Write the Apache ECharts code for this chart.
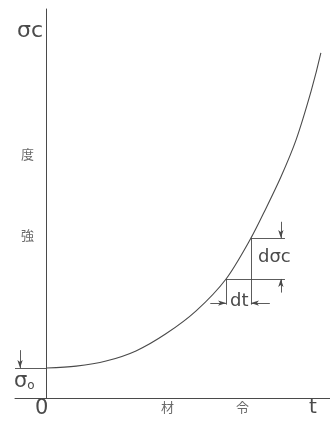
<!DOCTYPE html>
<html><head><meta charset="utf-8">
<script src="https://cdn.jsdelivr.net/npm/echarts@6/dist/echarts.min.js"></script>
<style>html,body{margin:0;background:#fff}#c{width:330px;height:426px}</style>
</head><body><div id="c"></div>
<script>
// Strength growth with age: age t (arbitrary units) vs strength
const ageT     = [0, 0.94, 1.89, 2.84, 3.79, 4.75, 5.7, 6.49, 6.97, 7.44, 7.92, 8.4, 8.71];
const strength = [0.77, 0.82, 0.95, 1.21, 1.65, 2.24, 3.06, 4.11, 4.88, 5.68, 6.63, 7.89, 8.87];
const yTitle = ['強', '度'];
const xTitle = ['材', '令'];
// the two curve points used for the dσc / dt construction
const iLow = 6, iHigh = 7;

const ink = '#4a4a4a';
const sigma0 = strength[0];
const A = [ageT[iLow], strength[iLow]];
const B = [ageT[iHigh], strength[iHigh]];

const seg = (p, q, arrow) => [
  { coord: p, symbol: 'none' },
  { coord: q, symbol: arrow ? 'arrow' : 'none' }
];

const dimX = 7.44, extX = 7.57, dimY = 2.44, dropY = 2.4;
const markData = [
  seg([-1, sigma0], [0, sigma0]),            // σ0 level
  seg([-0.84, sigma0 + 0.46], [-0.84, sigma0], true),
  seg([-0.84, -0.44], [-0.84, 0], true),
  seg(B, [extX, B[1]]),                       // extension lines for dσc
  seg(A, [extX, A[1]]),
  seg([dimX, B[1] + 0.42], [dimX, B[1]], true),
  seg([dimX, A[1] - 0.35], [dimX, A[1]], true),
  seg(B, [B[0], dropY]),                      // extension lines for dt
  seg(A, [A[0], dropY]),
  seg([A[0] - 0.5, dimY], [A[0], dimY], true),
  seg([B[0] + 0.6, dimY], [B[0], dimY], true)
];

const chart = echarts.init(document.getElementById('c'));
const txt = (x, y, text, size) => ({
  type: 'text', left: x, top: y,
  style: { text, fill: ink, font: size + 'px "DejaVu Sans", sans-serif' }
});
const cjk = (x, y, t) => ({
  type: 'text', left: x, top: y,
  style: { text: t, fill: '#6a6a6a', font: '13px "Noto Sans CJK JP", sans-serif' }
});

chart.setOption({
  animation: false,
  grid: { left: 15, right: 0, top: 9, bottom: 28 },
  xAxis: {
    type: 'value', min: -1, max: 9,
    axisLine: { show: true, onZero: true, lineStyle: { color: ink, width: 1 } },
    axisTick: { show: false }, axisLabel: { show: false }, splitLine: { show: false }
  },
  yAxis: {
    type: 'value', min: 0, max: 10,
    axisLine: { show: true, onZero: true, lineStyle: { color: ink, width: 1 } },
    axisTick: { show: false }, axisLabel: { show: false }, splitLine: { show: false }
  },
  series: [{
    type: 'line', silent: true, clip: false,
    data: ageT.map((t, i) => [t, strength[i]]),
    smooth: 0.3, showSymbol: false,
    lineStyle: { color: ink, width: 1.1 },
    markLine: {
      silent: true, symbolSize: [4, 8], precision: 2,
      label: { show: false },
      lineStyle: { color: ink, width: 0.9, type: 'solid' },
      data: markData
    }
  }],
  graphic: [
    txt(17, 20, 'σc', 22),
    { type: 'text', left: 14, top: 371,
      style: { text: '{a|σ}{b|o}', fill: ink,
        rich: { a: { font: '21px "DejaVu Sans", sans-serif', fill: ink },
                b: { font: '12px "DejaVu Sans", sans-serif', fill: ink, verticalAlign: 'bottom' } } } },
    txt(35, 398, '0', 21),
    txt(309, 398, 't', 20),
    txt(258, 248, 'dσc', 18),
    txt(230, 292, 'dt', 18),
    cjk(21, 229, yTitle[0]),
    cjk(21, 148, yTitle[1]),
    cjk(161, 401, xTitle[0]),
    cjk(236, 401, xTitle[1])
  ]
});
</script></body></html>
